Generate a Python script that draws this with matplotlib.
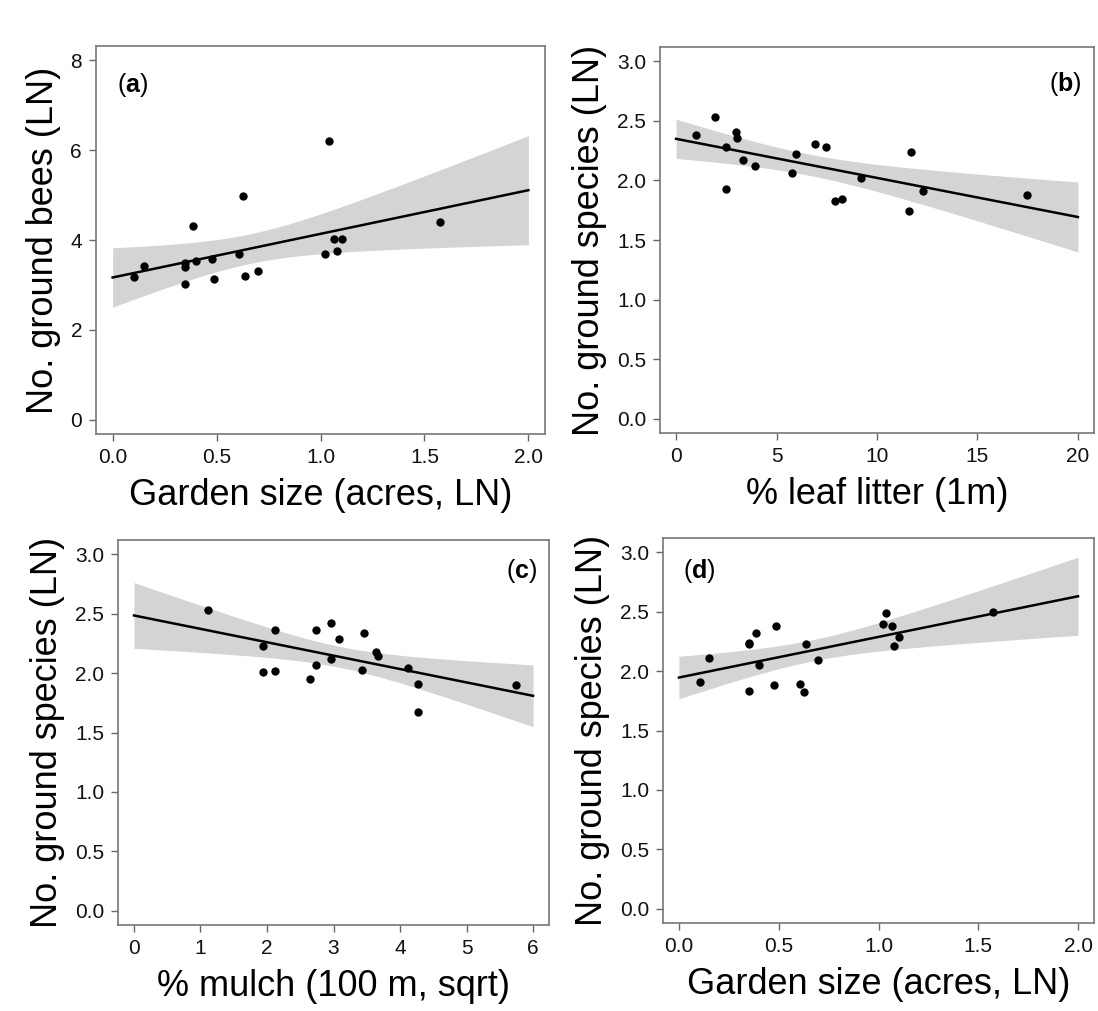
import matplotlib
matplotlib.use("Agg")
import matplotlib.pyplot as plt
import numpy as np

plt.rcParams['font.family'] = ['Liberation Sans', 'DejaVu Sans']
plt.rcParams['mathtext.fontset'] = 'custom'
plt.rcParams['mathtext.rm'] = 'Liberation Sans'
plt.rcParams['mathtext.bf'] = 'Liberation Sans:bold'

# garden size (acres, LN) - same gardens in (a) and (d)
garden = [0.104, 0.149, 0.349, 0.349, 0.349, 0.387, 0.403, 0.477, 0.486, 0.606,
          0.629, 0.638, 0.699, 1.024, 1.040, 1.066, 1.080, 1.104, 1.574]
bees_a = [3.18, 3.42, 3.49, 3.40, 3.01, 4.31, 3.54, 3.57, 3.14, 3.69,
          4.97, 3.19, 3.30, 3.69, 6.20, 4.02, 3.75, 4.03, 4.40]
species_d = [1.91, 2.11, 2.23, 2.24, 1.83, 2.32, 2.05, 1.88, 2.38, 1.89,
             1.82, 2.23, 2.09, 2.40, 2.49, 2.38, 2.21, 2.29, 2.50]

litter_b = [1.01, 1.95, 2.50, 2.50, 3.00, 3.05, 3.31, 3.91, 5.76, 5.99,
            6.89, 7.45, 7.90, 8.26, 9.19, 11.61, 11.70, 12.30, 17.47]
species_b = [2.38, 2.53, 2.28, 1.93, 2.41, 2.36, 2.17, 2.12, 2.06, 2.22,
             2.31, 2.28, 1.83, 1.84, 2.02, 1.74, 2.24, 1.91, 1.88]

mulch_c = [1.12, 1.94, 1.94, 2.12, 2.12, 2.64, 2.74, 2.74, 2.96, 2.96,
           3.08, 3.43, 3.46, 3.64, 3.67, 4.12, 4.27, 4.27, 5.74]
species_c = [2.53, 2.23, 2.01, 2.36, 2.02, 1.95, 2.36, 2.07, 2.42, 2.12,
             2.29, 2.03, 2.34, 2.18, 2.14, 2.04, 1.91, 1.67, 1.90]

x_garden_ticks = [0, 0.5, 1.0, 1.5, 2.0]
x_garden_labels = ['0.0', '0.5', '1.0', '1.5', '2.0']
x_litter_ticks = [0, 5, 10, 15, 20]
x_mulch_ticks = [0, 1, 2, 3, 4, 5, 6]
y_bees_ticks = [0, 2, 4, 6, 8]
y_sp_ticks = [0, 0.5, 1.0, 1.5, 2.0, 2.5, 3.0]
y_sp_labels = ['0.0', '0.5', '1.0', '1.5', '2.0', '2.5', '3.0']

T975 = 2.11  # t quantile, df = 17


def panel(ax, x, y, xmax, ymax, xticks, xlabels, yticks, ylabels, xlab, ylab, tag, tagpos):
    x = np.array(x)
    y = np.array(y)
    n = len(x)
    b, a = np.polyfit(x, y, 1)
    res = y - (a + b * x)
    s = np.sqrt(np.sum(res ** 2) / (n - 2))
    xs = np.linspace(0, xmax, 200)
    fit = a + b * xs
    se = s * np.sqrt(1.0 / n + (xs - x.mean()) ** 2 / np.sum((x - x.mean()) ** 2))
    ax.fill_between(xs, fit - T975 * se, fit + T975 * se, color='#d4d4d4', lw=0, zorder=1)
    ax.plot(xs, fit, color='black', lw=1.8, zorder=2)
    ax.scatter(x, y, s=36, color='black', zorder=3, lw=0)
    ax.set_xlim(-0.04 * xmax, 1.04 * xmax)
    ax.set_ylim(-0.04 * ymax, 1.04 * ymax)
    ax.set_xticks(xticks)
    ax.set_xticklabels(xlabels)
    ax.set_yticks(yticks)
    ax.set_yticklabels(ylabels)
    ax.tick_params(direction='out', length=5, width=1, colors='#666666',
                   labelcolor='#111111', labelsize=15, pad=5)
    for sp in ax.spines.values():
        sp.set_color('#777777')
        sp.set_linewidth(1.2)
    ax.set_xlabel(xlab, fontsize=26, labelpad=8)
    ax.set_ylabel(ylab, fontsize=26, labelpad=7)
    ax.text(tagpos[0], tagpos[1], '(' + r'$\mathbf{' + tag + '}$' + ')', transform=ax.transAxes,
            fontsize=18, ha=tagpos[2], va='center')


W, H = 1098, 1011
fig = plt.figure(figsize=(W / 100, H / 100), dpi=100)


def add_ax(l, t, r, b):
    return fig.add_axes([l / W, 1 - b / H, (r - l) / W, (b - t) / H])


ax_a = add_ax(96, 46, 545, 434)
ax_b = add_ax(660, 47, 1094, 433)
ax_c = add_ax(118, 540, 549, 925)
ax_d = add_ax(663, 538, 1094, 923)

panel(ax_a, garden, bees_a, 2, 8, x_garden_ticks, x_garden_labels,
      y_bees_ticks, [str(t) for t in y_bees_ticks],
      'Garden size (acres, LN)', 'No. ground bees (LN)', 'a', (0.047, 0.90, 'left'))

panel(ax_b, litter_b, species_b, 20, 3, x_litter_ticks, [str(t) for t in x_litter_ticks],
      y_sp_ticks, y_sp_labels,
      '% leaf litter (1m)', 'No. ground species (LN)', 'b', (0.972, 0.904, 'right'))

panel(ax_c, mulch_c, species_c, 6, 3, x_mulch_ticks, [str(t) for t in x_mulch_ticks],
      y_sp_ticks, y_sp_labels,
      '% mulch (100 m, sqrt)', 'No. ground species (LN)', 'c', (0.972, 0.919, 'right'))

panel(ax_d, garden, species_d, 2, 3, x_garden_ticks, x_garden_labels,
      y_sp_ticks, y_sp_labels,
      'Garden size (acres, LN)', 'No. ground species (LN)', 'd', (0.046, 0.914, 'left'))

fig.savefig('out.png', dpi=100)
